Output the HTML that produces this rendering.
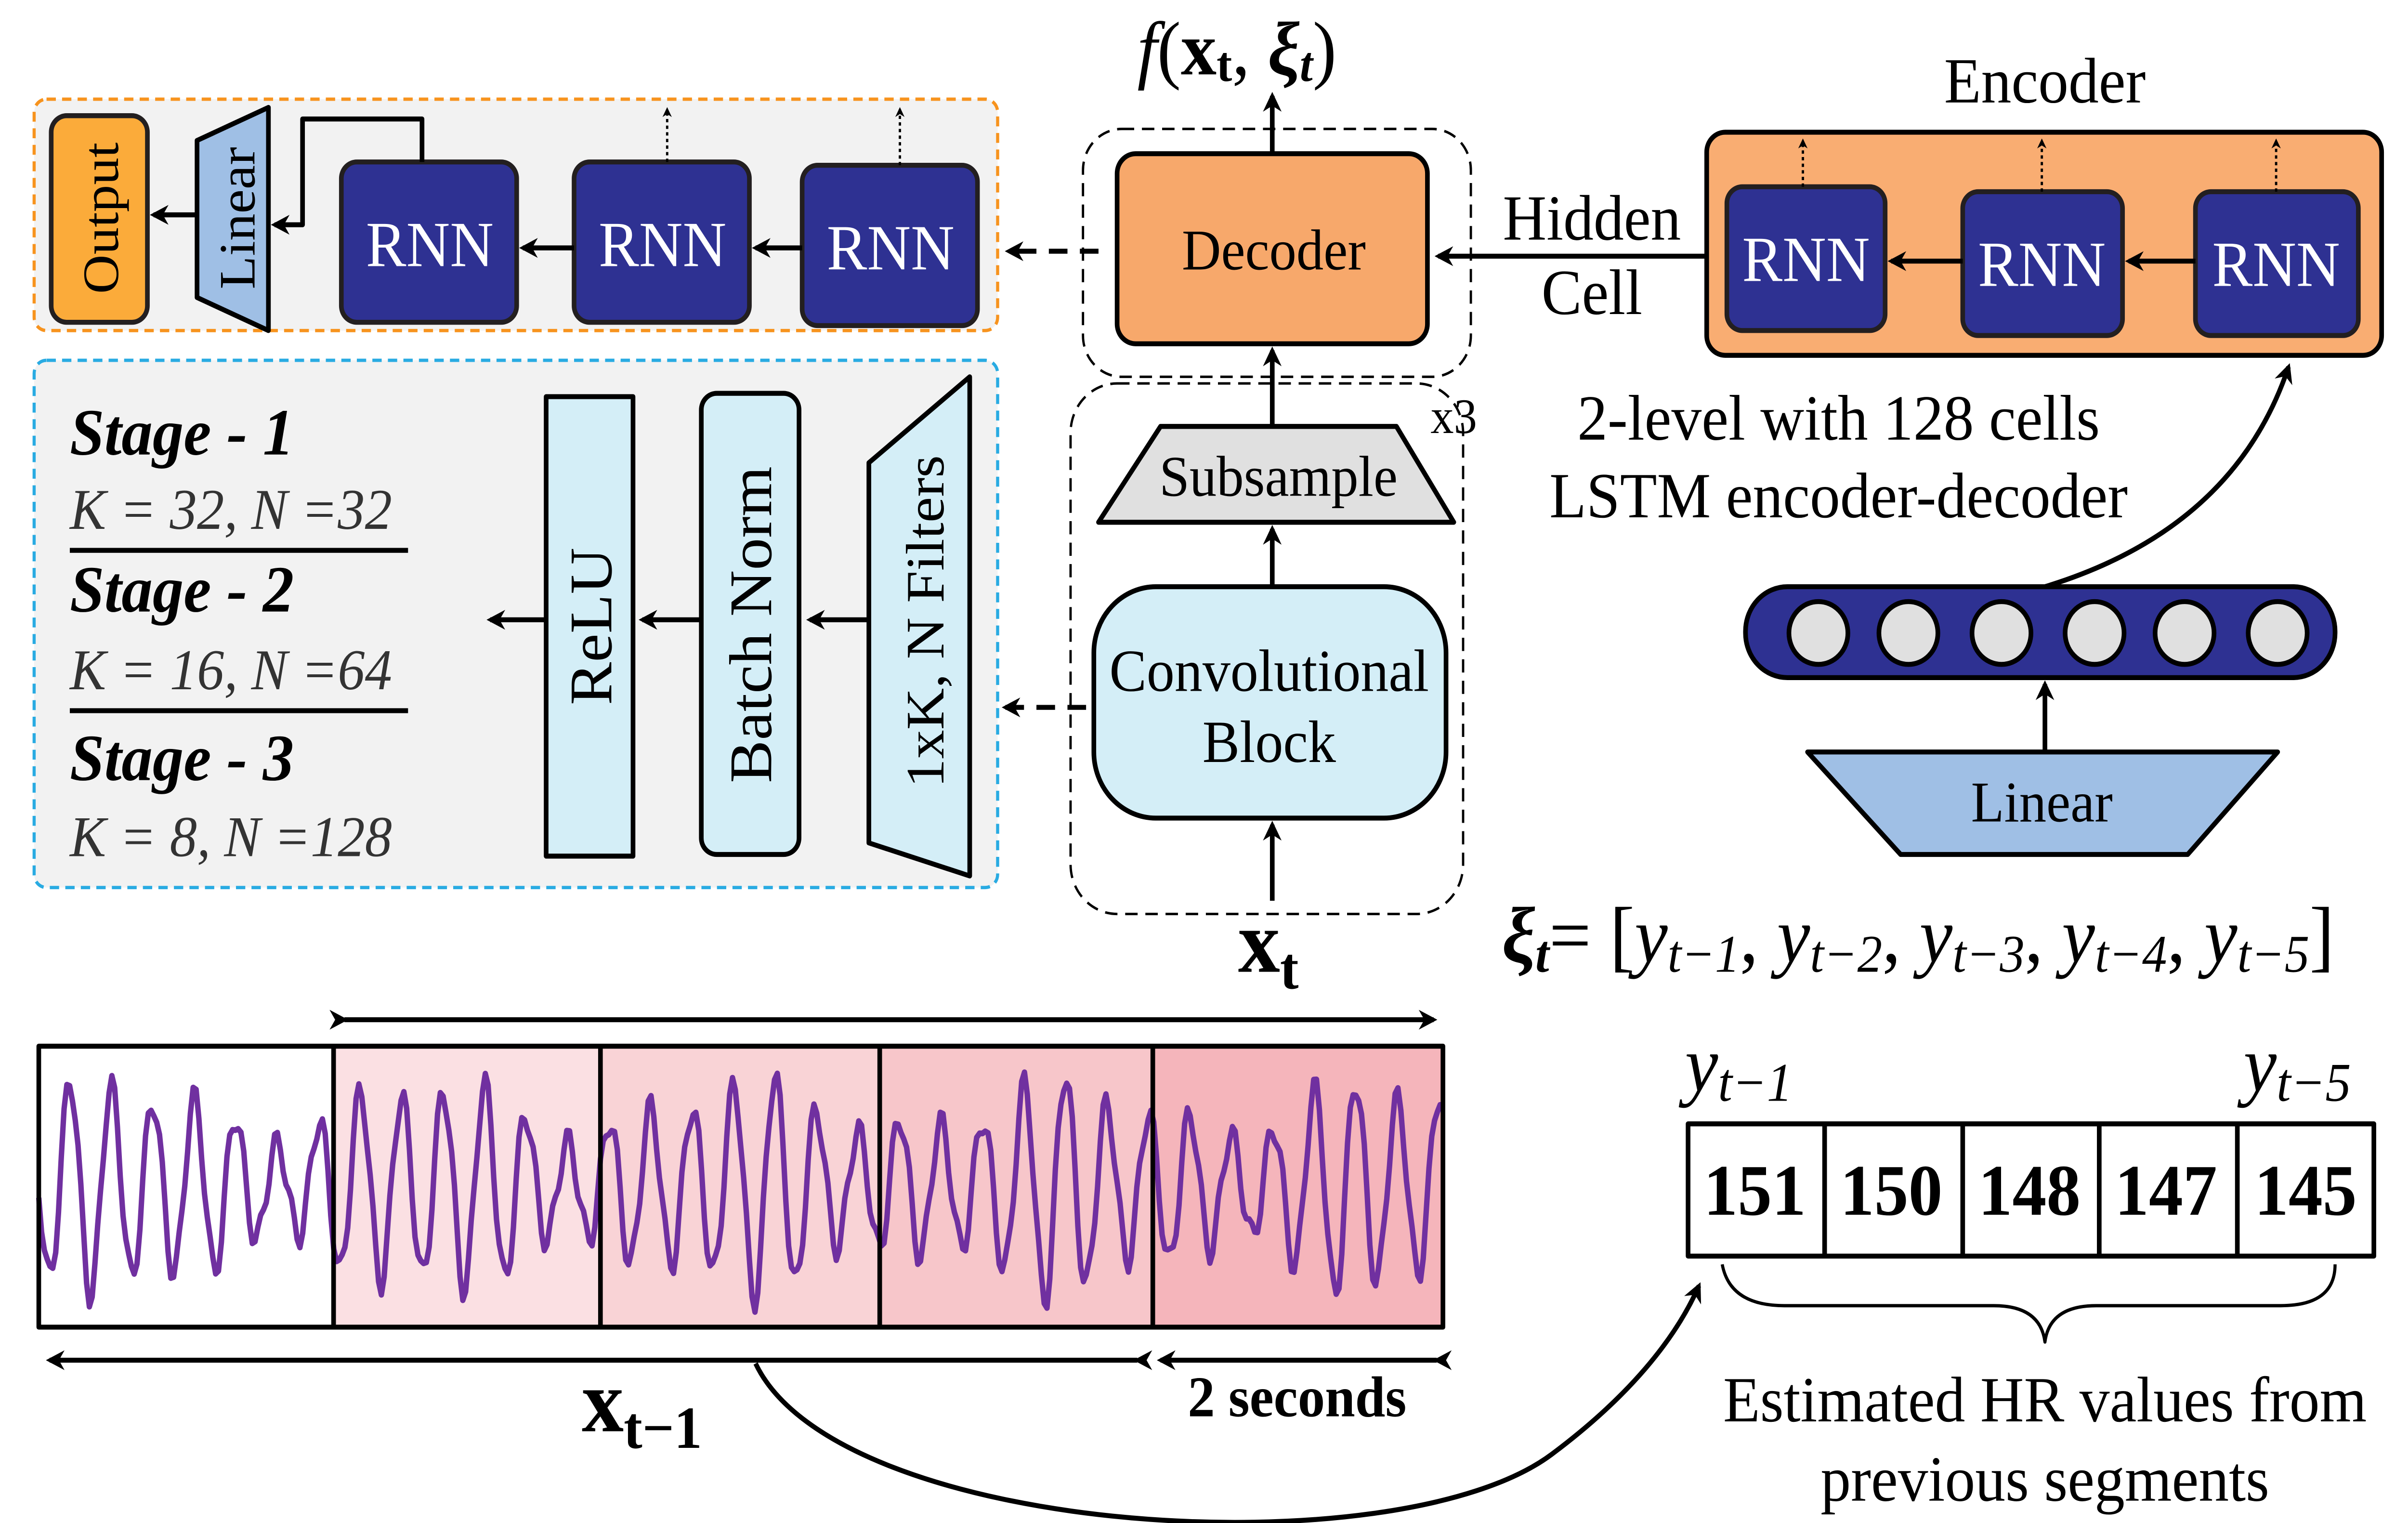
<!DOCTYPE html>
<html><head><meta charset="utf-8"><style>
html,body{margin:0;padding:0;background:#fff;width:100%;height:100%;overflow:hidden;}
svg{display:block;position:fixed;left:0;top:0;width:100vw;height:100vh;}
text{font-family:"Liberation Serif",serif;}
</style></head><body>
<svg id="s" viewBox="0 0 1552 921.5" preserveAspectRatio="none" xmlns="http://www.w3.org/2000/svg">
<defs>
<marker id="ah" viewBox="0 0 10 10" refX="8" refY="5" markerWidth="4" markerHeight="4" orient="auto"><path d="M0,0L10,5L0,10L3,5z" fill="#000"/></marker>
</defs>
<g stroke-linejoin="round">
<rect x="22" y="60" width="621" height="140" rx="8" fill="#f2f2f2" stroke="#f7931e" stroke-width="2" stroke-dasharray="6,4"/>
<rect x="33" y="70" width="62" height="125" rx="10" fill="#fbab3a" stroke="#231f20" stroke-width="3"/>
<text transform="translate(76,132) rotate(-90)" text-anchor="middle" font-size="33">Output</text>
<path d="M127,85 L173,65 L173,200 L127,180 Z" fill="#9fbfe5" stroke="#000" stroke-width="3"/>
<text transform="translate(164,132) rotate(-90)" text-anchor="middle" font-size="33">Linear</text>
<rect x="220" y="98" width="113" height="97" rx="10" fill="#2e3192" stroke="#231f20" stroke-width="3"/>
<rect x="370" y="98" width="113" height="97" rx="10" fill="#2e3192" stroke="#231f20" stroke-width="3"/>
<rect x="517" y="100" width="113" height="97" rx="10" fill="#2e3192" stroke="#231f20" stroke-width="3"/>
<g fill="#fff" font-size="39" text-anchor="middle"><text x="277" y="161">RNN</text><text x="427" y="161">RNN</text><text x="574" y="163">RNN</text></g>
<g stroke="#000" stroke-width="3" fill="none" marker-end="url(#ah)">
<line x1="517" y1="150" x2="487" y2="150"/>
<line x1="370" y1="150" x2="337" y2="150"/>
<line x1="127" y1="130" x2="99" y2="130"/>
<path d="M272,98 L272,72 L195,72 L195,136 L177,136"/>
</g>
<g stroke="#000" stroke-width="1.5" stroke-dasharray="2,2" fill="none" marker-end="url(#ah)">
<line x1="430" y1="98" x2="430" y2="66"/><line x1="580" y1="100" x2="580" y2="66"/>
</g>
<rect x="22" y="218" width="621" height="319" rx="8" fill="#f2f2f2" stroke="#29abe2" stroke-width="2" stroke-dasharray="6,4"/>
<g font-size="40" font-weight="bold" font-style="italic"><text x="45" y="275">Stage - 1</text><text x="45" y="370">Stage - 2</text><text x="45" y="472">Stage - 3</text></g>
<g font-size="35" font-style="italic" fill="#333"><text x="45" y="320">K = 32, N =32</text><text x="45" y="417">K = 16, N =64</text><text x="45" y="518">K = 8, N =128</text></g>
<line x1="45" y1="333" x2="263" y2="333" stroke="#000" stroke-width="3"/>
<line x1="45" y1="430" x2="263" y2="430" stroke="#000" stroke-width="3"/>
<rect x="352" y="240" width="56" height="278" fill="#d4eef7" stroke="#000" stroke-width="3"/>
<text transform="translate(394,379) rotate(-90)" text-anchor="middle" font-size="39">ReLU</text>
<rect x="452" y="238" width="63" height="279" rx="10" fill="#d4eef7" stroke="#000" stroke-width="3"/>
<text transform="translate(497,378) rotate(-90)" text-anchor="middle" font-size="39">Batch Norm</text>
<path d="M560,280 L625,228 L625,530 L560,510 Z" fill="#d4eef7" stroke="#000" stroke-width="3"/>
<text transform="translate(608,376) rotate(-90)" text-anchor="middle" font-size="35">1xK, N Filters</text>
<g stroke="#000" stroke-width="3" marker-end="url(#ah)">
<line x1="560" y1="375" x2="522" y2="375"/><line x1="452" y1="375" x2="414" y2="375"/><line x1="352" y1="375" x2="316" y2="375"/>
</g>
<rect x="698" y="78" width="250" height="150" rx="25" fill="none" stroke="#000" stroke-width="1.5" stroke-dasharray="8,5"/>
<rect x="720" y="93" width="200" height="115" rx="12" fill="#f7a86b" stroke="#000" stroke-width="3"/>
<text x="821" y="163" text-anchor="middle" font-size="35">Decoder</text>
<line x1="820" y1="93" x2="820" y2="58" stroke="#000" stroke-width="3" marker-end="url(#ah)"/>
<text x="733" y="45" font-size="46"><tspan font-style="italic">f</tspan>(<tspan font-weight="bold">x</tspan><tspan font-size="30" font-weight="bold" dy="4">t</tspan><tspan dy="-4">, </tspan><tspan font-weight="bold" font-style="italic">ξ</tspan><tspan font-size="30" font-weight="bold" font-style="italic" dy="4">t</tspan><tspan dy="-4">)</tspan></text>
<line x1="708" y1="152" x2="650" y2="152" stroke="#000" stroke-width="3" stroke-dasharray="12,8" marker-end="url(#ah)"/>
<rect x="690" y="232" width="253" height="321" rx="30" fill="none" stroke="#000" stroke-width="1.5" stroke-dasharray="8,5"/>
<text x="922" y="262" font-size="30">x3</text>
<path d="M748,258 L900,258 L937,316 L708,316 Z" fill="#e0e0e0" stroke="#000" stroke-width="3"/>
<text x="824" y="300" text-anchor="middle" font-size="35">Subsample</text>
<rect x="705" y="355" width="227" height="140" rx="40" fill="#d4eef7" stroke="#000" stroke-width="3"/>
<text x="818" y="418" text-anchor="middle" font-size="36">Convolutional</text><text x="818" y="461" text-anchor="middle" font-size="36">Block</text>
<g stroke="#000" stroke-width="3" marker-end="url(#ah)">
<line x1="820" y1="258" x2="820" y2="212"/><line x1="820" y1="355" x2="820" y2="320"/><line x1="820" y1="545" x2="820" y2="499"/>
</g>
<line x1="700" y1="428" x2="648" y2="428" stroke="#000" stroke-width="3" stroke-dasharray="12,8" marker-end="url(#ah)"/>
<text x="798" y="588" font-size="54" font-weight="bold">x<tspan font-size="36" dy="10">t</tspan></text>
<text x="1318" y="62" text-anchor="middle" font-size="39">Encoder</text>
<rect x="1100" y="80" width="435" height="135" rx="12" fill="#f9ad72" stroke="#000" stroke-width="3"/>
<rect x="1113" y="113" width="102" height="87" rx="10" fill="#2e3192" stroke="#231f20" stroke-width="3"/>
<rect x="1265" y="116" width="103" height="87" rx="10" fill="#2e3192" stroke="#231f20" stroke-width="3"/>
<rect x="1415" y="116" width="105" height="87" rx="10" fill="#2e3192" stroke="#231f20" stroke-width="3"/>
<g fill="#fff" font-size="39" text-anchor="middle"><text x="1164" y="170">RNN</text><text x="1316" y="173">RNN</text><text x="1467" y="173">RNN</text></g>
<g stroke="#000" stroke-width="3" marker-end="url(#ah)">
<line x1="1265" y1="158" x2="1219" y2="158"/><line x1="1415" y1="158" x2="1372" y2="158"/><line x1="1100" y1="155" x2="927" y2="155"/>
</g>
<g stroke="#000" stroke-width="1.5" stroke-dasharray="2,2" marker-end="url(#ah)">
<line x1="1162" y1="113" x2="1162" y2="85"/><line x1="1316" y1="116" x2="1316" y2="85"/><line x1="1467" y1="116" x2="1467" y2="85"/>
</g>
<text x="1026" y="145" text-anchor="middle" font-size="39">Hidden</text><text x="1026" y="190" text-anchor="middle" font-size="39">Cell</text>
<text x="1185" y="266" text-anchor="middle" font-size="39">2-level with 128 cells</text>
<text x="1185" y="313" text-anchor="middle" font-size="39">LSTM encoder-decoder</text>
<rect x="1125" y="355" width="380" height="55" rx="27" fill="#2e3192" stroke="#000" stroke-width="3"/>
<g fill="#e0e0e0" stroke="#000" stroke-width="3">
<circle cx="1172" cy="383" r="19"/><circle cx="1230" cy="383" r="19"/><circle cx="1290" cy="383" r="19"/><circle cx="1350" cy="383" r="19"/><circle cx="1408" cy="383" r="19"/><circle cx="1468" cy="383" r="19"/>
</g>
<path d="M1318,355 Q1440,320 1475,222" fill="none" stroke="#000" stroke-width="3" marker-end="url(#ah)"/>
<line x1="1318" y1="455" x2="1318" y2="414" stroke="#000" stroke-width="3" marker-end="url(#ah)"/>
<path d="M1165,455 L1468,455 L1410,517 L1225,517 Z" fill="#9fbfe5" stroke="#000" stroke-width="3"/>
<text x="1316" y="497" text-anchor="middle" font-size="35">Linear</text>
<text x="968" y="582" font-size="48"><tspan font-weight="bold" font-style="italic">ξ</tspan><tspan font-size="32" font-weight="bold" font-style="italic" dy="6">t</tspan><tspan dy="-6">= [</tspan><tspan font-style="italic">y</tspan><tspan font-size="32" font-style="italic" dy="6">t−1</tspan><tspan dy="-6">, </tspan><tspan font-style="italic">y</tspan><tspan font-size="32" font-style="italic" dy="6">t−2</tspan><tspan dy="-6">, </tspan><tspan font-style="italic">y</tspan><tspan font-size="32" font-style="italic" dy="6">t−3</tspan><tspan dy="-6">, </tspan><tspan font-style="italic">y</tspan><tspan font-size="32" font-style="italic" dy="6">t−4</tspan><tspan dy="-6">, </tspan><tspan font-style="italic">y</tspan><tspan font-size="32" font-style="italic" dy="6">t−5</tspan><tspan dy="-6">]</tspan></text>
<rect x="25" y="633" width="190" height="170" fill="#fff"/>
<rect x="215" y="633" width="172" height="170" fill="#fbe0e3"/>
<rect x="387" y="633" width="180" height="170" fill="#f9d3d6"/>
<rect x="567" y="633" width="176" height="170" fill="#f7c6ca"/>
<rect x="743" y="633" width="187" height="170" fill="#f5b5bb"/>
<path id="sig" d="" fill="none" stroke="#7030a0" stroke-width="3.5"/>
<rect x="25" y="633" width="905" height="170" fill="none" stroke="#000" stroke-width="3"/>
<g stroke="#000" stroke-width="3"><line x1="215" y1="633" x2="215" y2="803"/><line x1="387" y1="633" x2="387" y2="803"/><line x1="567" y1="633" x2="567" y2="803"/><line x1="743" y1="633" x2="743" y2="803"/></g>
<g stroke="#000" stroke-width="3" marker-start="url(#ah)" marker-end="url(#ah)">
<line x1="222" y1="617" x2="924" y2="617"/>
<path d="M733,823 L32,823"/>
<path d="M926,823 L748,823"/>
</g>
<text x="836" y="857" text-anchor="middle" font-size="35" font-weight="bold">2 seconds</text>
<text x="375" y="866" font-size="54" font-weight="bold">x<tspan font-size="36" dy="10">t−1</tspan></text>
<path d="M487,825 C540,930 900,950 1000,880 C1050,845 1080,810 1095,778" fill="none" stroke="#000" stroke-width="3" marker-end="url(#ah)"/>
<text x="1086" y="660" font-size="48" font-style="italic">y<tspan font-size="33" dy="6">t−1</tspan></text>
<text x="1446" y="660" font-size="48" font-style="italic">y<tspan font-size="33" dy="6">t−5</tspan></text>
<rect x="1088" y="680" width="442" height="80" fill="#fff" stroke="#000" stroke-width="3"/>
<g stroke="#000" stroke-width="3"><line x1="1176" y1="680" x2="1176" y2="760"/><line x1="1265" y1="680" x2="1265" y2="760"/><line x1="1353" y1="680" x2="1353" y2="760"/><line x1="1442" y1="680" x2="1442" y2="760"/></g>
<g font-size="44" font-weight="bold" text-anchor="middle"><text x="1131" y="735">151</text><text x="1219" y="735">150</text><text x="1308" y="735">148</text><text x="1396" y="735">147</text><text x="1486" y="735">145</text></g>
<path d="M1110,765 Q1115,790 1150,790 L1285,790 Q1315,790 1318,812 Q1321,790 1351,790 L1470,790 Q1505,790 1505,765" fill="none" stroke="#000" stroke-width="2"/>
<text x="1318" y="860" text-anchor="middle" font-size="39">Estimated HR values from</text>
<text x="1318" y="908" text-anchor="middle" font-size="39">previous segments</text>
</g>
</svg>
<script>
(function(){
var d="";var x0=25,x1=930,n=500;
for(var i=0;i<=n;i++){var x=x0+(x1-x0)*i/n;var t=(x-x0);
var a=48+14*Math.sin(t*0.031)+8*Math.sin(t*0.07);
var y=718+a*Math.sin(t*0.235)+8*Math.sin(t*0.6+1);
y=Math.max(640,Math.min(796,y));
d+=(i?"L":"M")+x.toFixed(1)+","+y.toFixed(1);}
document.getElementById("sig").setAttribute("d",d);})();
</script>
</body></html>
